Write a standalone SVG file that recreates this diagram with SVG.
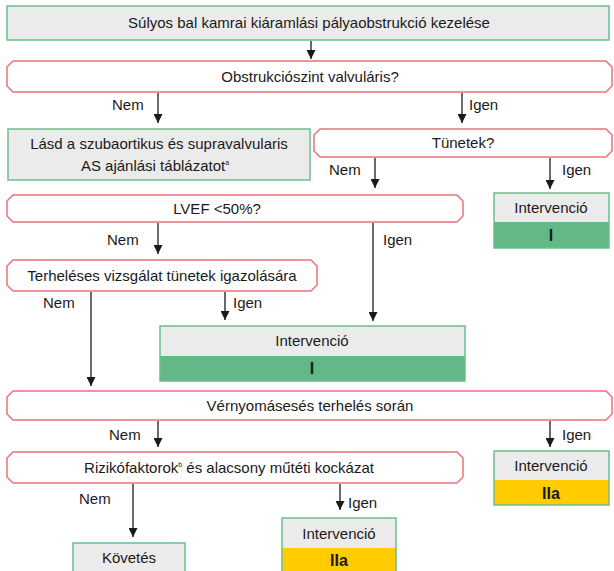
<svg xmlns="http://www.w3.org/2000/svg" width="614" height="571" viewBox="0 0 614 571">
<defs>
<marker id="arr" viewBox="0 0 10 10" refX="10" refY="5" markerWidth="10" markerHeight="9" markerUnits="userSpaceOnUse" orient="auto">
<path d="M0,0 L10,5 L0,10 z" fill="#1a1a1a"/>
</marker>
<style>
.box{fill:#ebebeb;stroke:#6cbf8a;stroke-width:1.5}
.dec{fill:#ffffff;stroke:#e8737b;stroke-width:1.5}
.grn{fill:#62b886}
.yel{fill:#ffcc00}
.t{font-family:"Liberation Sans",Arial,sans-serif;font-size:15px;fill:#1a1a1a;text-anchor:middle}
.l{font-family:"Liberation Sans",Arial,sans-serif;font-size:15px;fill:#1a1a1a}
.b{font-family:"Liberation Sans",Arial,sans-serif;font-size:16px;font-weight:bold;fill:#1a1a1a;text-anchor:middle}
.c{stroke:#1a1a1a;stroke-width:1.3;fill:none;marker-end:url(#arr)}
</style>
</defs>
<rect width="614" height="571" fill="#ffffff"/>

<g id="start">
<rect class="box" x="7" y="6" width="602" height="34"/>
<text class="t" x="309" y="28">Súlyos bal kamrai kiáramlási pályaobstrukció kezelése</text>
</g>

<g id="q-valvular">
<path class="dec" d="M13,61 H606 L612,67 V86 L606,92 H13 L7,86 V67 Z"/>
<text class="t" x="310" y="82">Obstrukciószint valvuláris?</text>
</g>

<g id="lasd">
<rect class="box" x="8" y="129" width="302" height="51"/>
<text class="t" x="159" y="149">Lásd a szubaortikus és supravalvularis</text>
<text class="t" x="155" y="171">AS ajánlási táblázatot<tspan font-size="7" dy="-6">a</tspan></text>
</g>

<g id="q-tunetek">
<path class="dec" d="M320,129 H606 L612,135 V151 L606,157 H320 L314,151 V135 Z"/>
<text class="t" x="463" y="148">Tünetek?</text>
</g>

<g id="int1">
<rect x="494" y="193" width="115" height="29" fill="#ebebeb"/>
<rect class="grn" x="494" y="222" width="115" height="26"/>
<rect x="494" y="193" width="115" height="55" fill="none" stroke="#6cbf8a" stroke-width="1.5"/>
<text class="t" x="551" y="213">Intervenció</text>
<text class="b" x="551" y="241">I</text>
</g>

<g id="q-lvef">
<path class="dec" d="M13,195 H457 L463,201 V216 L457,222 H13 L7,216 V201 Z"/>
<text class="t" x="217" y="214">LVEF &lt;50%?</text>
</g>

<g id="q-terheleses">
<path class="dec" d="M13,260 H311 L317,266 V285 L311,291 H13 L7,285 V266 Z"/>
<text class="t" x="162" y="281">Terheléses vizsgálat tünetek igazolására</text>
</g>

<g id="int2">
<rect x="160" y="326" width="305" height="30" fill="#ebebeb"/>
<rect class="grn" x="160" y="356" width="305" height="25"/>
<rect x="160" y="326" width="305" height="55" fill="none" stroke="#6cbf8a" stroke-width="1.5"/>
<text class="t" x="312" y="346">Intervenció</text>
<text class="b" x="312" y="374">I</text>
</g>

<g id="q-vernyomas">
<path class="dec" d="M13,391 H606 L612,397 V414 L606,420 H13 L7,414 V397 Z"/>
<text class="t" x="310" y="411">Vérnyomásesés terhelés során</text>
</g>

<g id="q-rizikó">
<path class="dec" d="M13,452 H457 L463,458 V477 L457,483 H13 L7,477 V458 Z"/>
<text class="t" x="229" y="473">Rizikófaktorok<tspan font-size="7" dy="-6">b</tspan><tspan dy="6"> és alacsony műtéti kockázat</tspan></text>
</g>

<g id="int3">
<rect x="494" y="451" width="115" height="29" fill="#ebebeb"/>
<rect class="yel" x="494" y="480" width="115" height="25"/>
<rect x="494" y="451" width="115" height="54" fill="none" stroke="#6cbf8a" stroke-width="1.5"/>
<text class="t" x="551" y="471">Intervenció</text>
<text class="b" x="551" y="499">IIa</text>
</g>

<g id="int4">
<rect x="282" y="518" width="114" height="30" fill="#ebebeb"/>
<rect class="yel" x="282" y="548" width="114" height="25"/>
<rect x="282" y="518" width="114" height="55" fill="none" stroke="#6cbf8a" stroke-width="1.5"/>
<text class="t" x="339" y="539">Intervenció</text>
<text class="b" x="339" y="566">IIa</text>
</g>

<g id="kovetes">
<rect class="box" x="73" y="543" width="112" height="32"/>
<text class="t" x="129" y="563">Követés</text>
</g>

<g id="connectors">
<line class="c" x1="311" y1="41" x2="311" y2="59"/>
<line class="c" x1="158" y1="93" x2="158" y2="123"/>
<line class="c" x1="462" y1="93" x2="462" y2="123"/>
<line class="c" x1="375" y1="158" x2="375" y2="188"/>
<line class="c" x1="550" y1="158" x2="550" y2="189"/>
<line class="c" x1="158" y1="223" x2="158" y2="254"/>
<line class="c" x1="373" y1="223" x2="373" y2="321"/>
<line class="c" x1="91" y1="292" x2="91" y2="386"/>
<line class="c" x1="225" y1="292" x2="225" y2="320"/>
<line class="c" x1="158" y1="421" x2="158" y2="447"/>
<line class="c" x1="550" y1="421" x2="550" y2="447"/>
<line class="c" x1="133" y1="484" x2="133" y2="537"/>
<line class="c" x1="340" y1="484" x2="340" y2="510"/>
</g>

<g id="labels">
<text class="l" x="112" y="110">Nem</text>
<text class="l" x="469" y="110">Igen</text>
<text class="l" x="329" y="175">Nem</text>
<text class="l" x="562" y="175">Igen</text>
<text class="l" x="107" y="245">Nem</text>
<text class="l" x="383" y="245">Igen</text>
<text class="l" x="43" y="308">Nem</text>
<text class="l" x="233" y="308">Igen</text>
<text class="l" x="109" y="440">Nem</text>
<text class="l" x="562" y="440">Igen</text>
<text class="l" x="79" y="504">Nem</text>
<text class="l" x="348" y="508">Igen</text>
</g>
</svg>
